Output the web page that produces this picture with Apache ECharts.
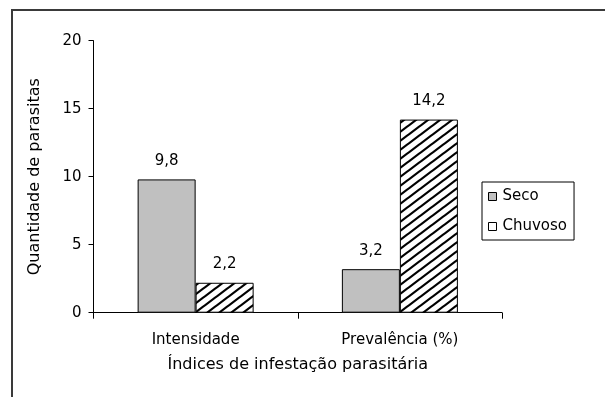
<!DOCTYPE html>
<html>
<head>
<meta charset="utf-8">
<script src="https://cdn.jsdelivr.net/npm/echarts@6/dist/echarts.min.js"></script>
<style>
  html, body { margin: 0; padding: 0; background: #fff; }
  #chart { width: 605px; height: 397px; }
</style>
</head>
<body>
<div id="chart"></div>
<script>
// Chart data
const categories = ['Intensidade', 'Prevalência (%)'];
const seriesNames = ['Seco', 'Chuvoso'];
const seco = [9.8, 3.2];
const chuvoso = [2.2, 14.2];
const yTicks = { min: 0, max: 20, step: 5 };

const FONT = 'DejaVu Sans';

// Diagonal hatch fill for the rainy-season bars
function makeHatch() {
  const w = 12, h = 9;
  const c = document.createElement('canvas');
  c.width = w; c.height = h;
  const ctx = c.getContext('2d');
  ctx.fillStyle = '#fff';
  ctx.fillRect(0, 0, w, h);
  ctx.strokeStyle = '#000';
  ctx.lineWidth = 2.2;
  ctx.beginPath();
  for (let k = -1; k <= 1; k++) {
    ctx.moveTo(-w + k * w, 2 * h);
    ctx.lineTo(2 * w + k * w, -h);
  }
  ctx.stroke();
  return c;
}

const commaFmt = p => String(p.value).replace('.', ',');

const chart = echarts.init(document.getElementById('chart'), null, { renderer: 'canvas' });

chart.setOption({
  animation: false,
  backgroundColor: '#fff',
  textStyle: { fontFamily: FONT, color: '#000' },
  graphic: [{
    type: 'rect',
    shape: { x: 12, y: 10, width: 800, height: 600 },
    style: { fill: 'none', stroke: '#3a3a3a', lineWidth: 2 },
    silent: true,
    z: -1
  }],
  grid: { left: 93.5, right: 103, top: 40.7, bottom: 84.3, containLabel: false },
  legend: {
    orient: 'vertical',
    left: 482,
    top: 182,
    padding: [7, 7, 6, 6],
    itemWidth: 8,
    itemHeight: 8,
    itemGap: 15,
    icon: 'rect',
    borderColor: '#000',
    borderWidth: 1,
    textStyle: { fontFamily: FONT, fontSize: 15, color: '#000', padding: [0, 0, 0, 1] },
    data: [
      { name: seriesNames[0], itemStyle: { color: '#c0c0c0', borderColor: '#000', borderWidth: 1 } },
      { name: seriesNames[1], itemStyle: { color: '#fff', borderColor: '#000', borderWidth: 1 } }
    ]
  },
  xAxis: {
    type: 'category',
    data: categories,
    name: 'Índices de infestação parasitária',
    nameLocation: 'middle',
    nameGap: 44,
    nameTextStyle: { fontFamily: FONT, fontSize: 16, color: '#000' },
    axisLine: { lineStyle: { color: '#000', width: 1 } },
    axisTick: { show: true, length: 6, lineStyle: { color: '#000' } },
    axisLabel: { margin: 20, fontFamily: FONT, fontSize: 15, color: '#000' },
    splitLine: { show: false }
  },
  yAxis: {
    type: 'value',
    min: yTicks.min,
    max: yTicks.max,
    interval: yTicks.step,
    name: 'Quantidade de parasitas',
    nameLocation: 'middle',
    nameGap: 51,
    nameRotate: 90,
    nameTextStyle: { fontFamily: FONT, fontSize: 16, color: '#000' },
    axisLine: { show: true, lineStyle: { color: '#000', width: 1 } },
    axisTick: { show: true, length: 5, lineStyle: { color: '#000' } },
    axisLabel: { margin: 12, fontFamily: FONT, fontSize: 15, color: '#000' },
    splitLine: { show: false }
  },
  series: [
    {
      name: seriesNames[0],
      type: 'bar',
      data: seco,
      barWidth: 58,
      barGap: '0%',
      itemStyle: { color: '#c0c0c0', borderColor: '#000', borderWidth: 1 },
      label: { show: true, position: 'top', distance: 11, formatter: commaFmt,
               fontFamily: FONT, fontSize: 15, color: '#000' }
    },
    {
      name: seriesNames[1],
      type: 'bar',
      data: chuvoso,
      barWidth: 58,
      barGap: '0%',
      itemStyle: { color: { image: makeHatch(), repeat: 'repeat' }, borderColor: '#000', borderWidth: 1 },
      label: { show: true, position: 'top', distance: 11, formatter: commaFmt,
               fontFamily: FONT, fontSize: 15, color: '#000' }
    }
  ]
});
</script>
</body>
</html>
